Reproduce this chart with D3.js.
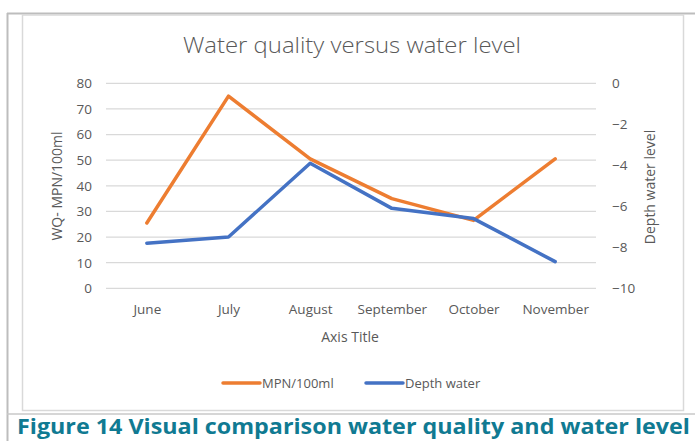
<!DOCTYPE html>
<html>
<head>
<meta charset="utf-8">
<script src="https://cdn.jsdelivr.net/npm/d3@7"></script>
<style>
  body { margin: 0; background: #fff; }
  text { font-family: "Open Sans", "DejaVu Sans", sans-serif; }
</style>
</head>
<body>
<script>
//chart data
var months = ["June", "July", "August", "September", "October", "November"];
var mpnValues = [25.5, 75, 50.5, 35, 26.5, 50.5];
var depthValues = [-7.8, -7.5, -3.9, -6.1, -6.6, -8.7];
var leftTicks = [0, 10, 20, 30, 40, 50, 60, 70, 80];
var rightTicks = [0, -2, -4, -6, -8, -10];

window.onload = drawChart();

function drawChart() {
    var width = 695,
        height = 441;

    var svg = d3.select("body")
        .append("svg")
        .attr("width", width)
        .attr("height", height);

    //page frame lines
    svg.append("line").attr("x1", 7).attr("x2", 695).attr("y1", 13.5).attr("y2", 13.5)
        .attr("stroke", "#bdbdbd").attr("stroke-width", 2);
    svg.append("line").attr("x1", 7.5).attr("x2", 7.5).attr("y1", 13).attr("y2", 441)
        .attr("stroke", "#bdbdbd").attr("stroke-width", 2);
    svg.append("line").attr("x1", 7).attr("x2", 695).attr("y1", 414).attr("y2", 414)
        .attr("stroke", "#c8c8c8").attr("stroke-width", 1.5);

    //chart area border
    svg.append("rect")
        .attr("x", 22.5).attr("y", 15)
        .attr("width", 661).attr("height", 395.5)
        .attr("fill", "#fff")
        .attr("stroke", "#d9d9d9")
        .attr("stroke-width", 1.5);

    //scales
    var x = d3.scalePoint()
        .domain(months)
        .range([106, 596])
        .padding(0.5);

    var yLeft = d3.scaleLinear().domain([0, 80]).range([288.3, 83.3]);
    var yRight = d3.scaleLinear().domain([-10, 0]).range([288.3, 83.3]);

    //gridlines
    svg.append("g")
        .selectAll("line")
        .data(leftTicks)
        .enter()
        .append("line")
        .attr("x1", 106).attr("x2", 596)
        .attr("y1", function(d) { return yLeft(d); })
        .attr("y2", function(d) { return yLeft(d); })
        .attr("stroke", "#d9d9d9")
        .attr("stroke-width", 1.3);

    //left axis
    var leftAxis = svg.append("g")
        .attr("transform", "translate(92,0)")
        .call(d3.axisLeft(yLeft).tickValues(leftTicks).tickSize(0).tickPadding(0));
    leftAxis.select(".domain").remove();
    leftAxis.selectAll("text")
        .attr("fill", "#595959")
        .style("font-size", "13.5px");

    //right axis
    var rightAxis = svg.append("g")
        .attr("transform", "translate(612,0)")
        .call(d3.axisRight(yRight).tickValues(rightTicks).tickSize(0).tickPadding(0));
    rightAxis.select(".domain").remove();
    rightAxis.selectAll("text")
        .attr("fill", "#595959")
        .style("font-size", "13.5px");

    //bottom axis
    var bottomAxis = svg.append("g")
        .attr("transform", "translate(0,304)")
        .call(d3.axisBottom(x).tickSize(0).tickPadding(0));
    bottomAxis.select(".domain").remove();
    bottomAxis.selectAll("text")
        .attr("fill", "#595959")
        .style("font-size", "13.5px");

    //lines
    var mpnLine = d3.line()
        .x(function(d, i) { return x(months[i]); })
        .y(function(d) { return yLeft(d); });
    var depthLine = d3.line()
        .x(function(d, i) { return x(months[i]); })
        .y(function(d) { return yRight(d); });

    svg.append("path")
        .datum(mpnValues)
        .attr("d", mpnLine)
        .attr("fill", "none")
        .attr("stroke", "#ed7d31")
        .attr("stroke-width", 3.5)
        .attr("stroke-linejoin", "round")
        .attr("stroke-linecap", "round");

    svg.append("path")
        .datum(depthValues)
        .attr("d", depthLine)
        .attr("fill", "none")
        .attr("stroke", "#4472c4")
        .attr("stroke-width", 3.5)
        .attr("stroke-linejoin", "round")
        .attr("stroke-linecap", "round");

    //titles
    svg.append("text")
        .attr("x", 352).attr("y", 53)
        .attr("text-anchor", "middle")
        .attr("fill", "#595959")
        .style("font-size", "22px")
        .style("font-weight", 300)
        .attr("textLength", 338)
        .attr("lengthAdjust", "spacingAndGlyphs")
        .text("Water quality versus water level");

    svg.append("text")
        .attr("x", 350).attr("y", 342)
        .attr("text-anchor", "middle")
        .attr("fill", "#595959")
        .style("font-size", "14px")
        .text("Axis Title");

    svg.append("text")
        .attr("transform", "translate(62,186) rotate(-90)")
        .attr("text-anchor", "middle")
        .attr("fill", "#595959")
        .style("font-size", "14px")
        .text("WQ- MPN/100ml");

    svg.append("text")
        .attr("transform", "translate(655,187) rotate(-90)")
        .attr("text-anchor", "middle")
        .attr("fill", "#595959")
        .style("font-size", "14px")
        .text("Depth water level");

    //legend
    var legendItems = [
        { label: "MPN/100ml", color: "#ed7d31", x: 223 },
        { label: "Depth water", color: "#4472c4", x: 366 }
    ];
    var legend = svg.append("g");
    legend.selectAll("line")
        .data(legendItems)
        .enter()
        .append("line")
        .attr("x1", function(d) { return d.x; })
        .attr("x2", function(d) { return d.x + 37; })
        .attr("y1", 383).attr("y2", 383)
        .attr("stroke", function(d) { return d.color; })
        .attr("stroke-width", 3.5)
        .attr("stroke-linecap", "round");
    legend.selectAll("text")
        .data(legendItems)
        .enter()
        .append("text")
        .attr("x", function(d) { return d.x + 39; })
        .attr("y", 388)
        .attr("fill", "#595959")
        .style("font-size", "13px")
        .text(function(d) { return d.label; });

    //caption
    svg.append("text")
        .attr("x", 17).attr("y", 434)
        .attr("fill", "#107a92")
        .style("font-size", "21px")
        .style("font-weight", "bold")
        .attr("textLength", 673)
        .attr("lengthAdjust", "spacingAndGlyphs")
        .text("Figure 14 Visual comparison water quality and water level");
}
</script>
</body>
</html>
